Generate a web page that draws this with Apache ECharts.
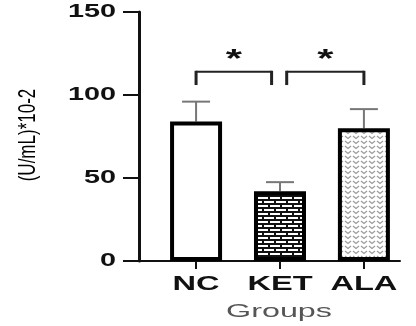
<!DOCTYPE html>
<html><head><meta charset="utf-8">
<script src="https://cdn.jsdelivr.net/npm/echarts@6/dist/echarts.min.js"></script>
<style>html,body{margin:0;padding:0;background:#fff}#c{width:416px;height:326px}</style>
</head><body><div id="c"></div>
<script>
var categories = ['NC', 'KET', 'ALA'];
var means = [84, 42, 80];
var upperErr = [96, 47.5, 91.5];
var yTicks = [0, 50, 100, 150];
var brackets = [[1, 1.9, 114, 106], [2.08, 3, 114, 106]];
var stars = ['*', '*'];
var yTitle = '(U/mL)*10-2';
var xTitle = 'Groups';

function brickPattern() {
  var c = document.createElement('canvas'); c.width = 12; c.height = 8;
  var g = c.getContext('2d');
  g.fillStyle = '#111'; g.fillRect(0, 0, 12, 8);
  g.fillStyle = '#fff';
  g.fillRect(0, 1, 10, 2);
  g.fillRect(0, 5, 4, 2); g.fillRect(6, 5, 6, 2);
  return c;
}
function chevronPattern() {
  var c = document.createElement('canvas'); c.width = 8; c.height = 5;
  var g = c.getContext('2d');
  g.fillStyle = '#fff'; g.fillRect(0, 0, 8, 5);
  g.strokeStyle = '#9a9a9a'; g.lineWidth = 1.2;
  g.beginPath(); g.moveTo(1, 1); g.lineTo(4, 3.5); g.lineTo(7, 1); g.stroke();
  return c;
}
var fills = ['#ffffff', {image: brickPattern(), repeat: 'repeat'}, {image: chevronPattern(), repeat: 'repeat'}];

var chart = echarts.init(document.getElementById('c'));
var barData = categories.map(function (n, i) {
  return {value: [i + 1, means[i]], itemStyle: {color: fills[i]}};
});
var errData = categories.map(function (n, i) { return [i + 1, means[i], upperErr[i]]; });
var xLabelData = categories.map(function (n, i) { return [i + 1, 0]; });

chart.setOption({
  animation: false,
  grid: {left: 139, right: 16, top: 12, bottom: 65},
  graphic: [
    {type: 'text', x: 28, y: 135, rotation: Math.PI / 2, scaleY: 1.4,
      style: {text: yTitle, fill: '#000', font: '17px Liberation Sans', align: 'center', verticalAlign: 'middle'}},
    {type: 'text', x: 279, y: 312, scaleX: 1.7,
      style: {text: xTitle, fill: '#555', font: '19px Liberation Sans', align: 'center', verticalAlign: 'middle'}}
  ],
  xAxis: {
    type: 'value', min: 0.32, max: 3.43,
    splitLine: {show: false},
    axisLine: {show: true, onZero: false, lineStyle: {color: '#111', width: 2}},
    axisTick: {show: true, customValues: [1, 2, 3], length: 8, lineStyle: {color: '#111', width: 2}},
    axisLabel: {show: false}
  },
  yAxis: {
    type: 'value', min: 0, max: 150, interval: 50,
    splitLine: {show: false},
    axisLine: {show: true, lineStyle: {color: '#111', width: 3}},
    axisTick: {show: true, length: 16, lineStyle: {color: '#111', width: 2}},
    axisLabel: {show: false}
  },
  series: [
    {
      type: 'bar', barWidth: 52, data: barData,
      itemStyle: {borderColor: '#000', borderWidth: 4}
    },
    {
      type: 'custom', data: errData, z: 1, clip: false,
      renderItem: function (params, api) {
        var x = api.value(0);
        var p0 = api.coord([x, api.value(1)]);
        var p1 = api.coord([x, api.value(2)]);
        var st = {stroke: '#777', lineWidth: 2};
        return {type: 'group', children: [
          {type: 'line', shape: {x1: p0[0], y1: p0[1], x2: p1[0], y2: p1[1]}, style: st},
          {type: 'line', shape: {x1: p1[0] - 14, y1: p1[1], x2: p1[0] + 14, y2: p1[1]}, style: st}
        ]};
      }
    },
    {
      type: 'custom', data: brackets, clip: false,
      renderItem: function (params, api) {
        var a = api.coord([api.value(0), api.value(2)]);
        var b = api.coord([api.value(1), api.value(2)]);
        var a2 = api.coord([api.value(0), api.value(3)]);
        var b2 = api.coord([api.value(1), api.value(3)]);
        var mid = api.coord([(api.value(0) + api.value(1)) / 2, api.value(2) + 7]);
        return {type: 'group', children: [
          {type: 'line', shape: {x1: a[0], y1: a[1], x2: b[0], y2: b[1]}, style: {stroke: '#222', lineWidth: 2}},
          {type: 'line', shape: {x1: a[0], y1: a[1] - 1, x2: a2[0], y2: a2[1]}, style: {stroke: '#222', lineWidth: 3}},
          {type: 'line', shape: {x1: b[0], y1: b[1] - 1, x2: b2[0], y2: b2[1]}, style: {stroke: '#222', lineWidth: 3}},
          {type: 'text', x: mid[0], y: mid[1], scaleX: 1.6, style: {text: stars[params.dataIndex], fill: '#111',
            font: 'bold 26px Liberation Sans', align: 'center', verticalAlign: 'middle'}}
        ]};
      }
    },
    {
      type: 'custom', data: yTicks.map(function (v) { return [1, v]; }), clip: false,
      renderItem: function (params, api) {
        var p = api.coord([api.value(0), api.value(1)]);
        return {type: 'text', x: params.coordSys.x - 23, y: p[1], scaleX: 1.6,
          style: {text: String(api.value(1)), fill: '#111', font: 'bold 18px Liberation Sans',
            align: 'right', verticalAlign: 'middle'}};
      }
    },
    {
      type: 'custom', data: xLabelData, clip: false,
      renderItem: function (params, api) {
        var p = api.coord([api.value(0), api.value(1)]);
        return {type: 'text', x: p[0], y: p[1] + 23, scaleX: 1.63,
          style: {text: categories[params.dataIndex], fill: '#111', font: 'bold 20px Liberation Sans',
            align: 'center', verticalAlign: 'middle'}};
      }
    }
  ]
});
</script></body></html>
